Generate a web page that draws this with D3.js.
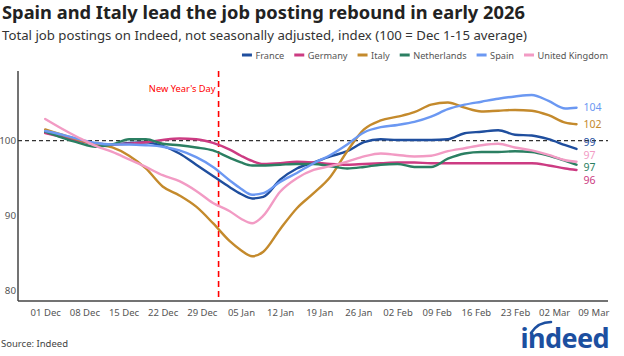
<!DOCTYPE html>
<html>
<head>
<meta charset="utf-8">
<script src="https://cdn.jsdelivr.net/npm/d3@7"></script>
<style>
  html, body { margin: 0; padding: 0; background: #fff; }
  svg { display: block; font-family: "Noto Sans", "Open Sans", sans-serif; }
</style>
</head>
<body>
<svg id="chart" width="624" height="356"></svg>
<script>
const dates = ["2025-12-01","2025-12-04","2025-12-07","2025-12-10","2025-12-13","2025-12-16","2025-12-19","2025-12-22","2025-12-25","2025-12-28","2025-12-31","2026-01-03","2026-01-05","2026-01-07","2026-01-09","2026-01-12","2026-01-15","2026-01-18","2026-01-21","2026-01-24","2026-01-27","2026-01-30","2026-02-02","2026-02-05","2026-02-08","2026-02-11","2026-02-14","2026-02-17","2026-02-20","2026-02-23","2026-02-26","2026-03-01","2026-03-04","2026-03-06"];

const france      = [101.1,100.6,100.0,99.6,99.5,99.7,99.8,99.3,98.3,96.8,95.3,93.8,92.9,92.3,92.5,94.8,96.3,97.1,97.9,98.6,99.8,100.2,100.1,100.1,100.1,100.2,101.0,101.2,101.4,100.8,100.7,100.2,99.4,98.9];
const germany     = [101.0,100.5,100.0,99.6,99.5,99.6,99.8,100.1,100.3,100.2,99.7,98.8,98.0,97.3,96.9,97.0,97.2,97.1,96.9,96.8,96.9,97.0,97.1,97.1,97.0,97.0,97.0,97.0,97.0,97.0,97.0,96.7,96.3,96.1];
const italy       = [101.5,100.8,100.1,99.5,99.1,98.0,96.3,93.9,92.7,91.2,89.0,86.6,85.4,84.6,85.2,88.2,91.0,93.0,95.2,98.6,101.5,102.7,103.2,103.8,104.8,105.1,104.4,103.9,104.0,104.1,104.0,103.4,102.4,102.2];
const netherlands = [101.2,100.4,99.7,99.2,99.5,100.2,100.2,99.6,99.4,99.1,98.7,97.7,97.1,96.7,96.7,96.8,96.9,96.9,96.6,96.3,96.5,96.8,96.9,96.5,96.5,97.6,98.3,98.5,98.5,98.6,98.5,98.0,97.3,96.8];
const spain       = [101.3,100.8,100.2,99.7,99.5,99.5,99.4,99.2,98.7,97.8,96.5,94.7,93.6,92.8,93.0,94.5,95.7,97.0,98.1,99.5,101.1,101.8,102.1,102.5,103.2,104.2,104.8,105.2,105.6,105.9,106.1,105.3,104.3,104.4];
const uk          = [102.9,101.6,100.4,99.3,98.5,97.5,96.5,95.4,94.6,93.3,91.7,90.6,89.6,89.0,90.0,93.2,95.0,96.1,96.6,97.2,97.9,98.3,98.1,97.9,98.0,98.6,99.0,99.4,99.6,99.1,98.7,98.1,97.4,97.2];

const seriesNames  = ["France","Germany","Italy","Netherlands","Spain","United Kingdom"];
const seriesColors = ["#1f4e9e","#cc3b82","#c48a2c","#2b7f62","#6b98f2","#f29bc4"];
const seriesValues = [france, germany, italy, netherlands, spain, uk];

const yTicks = [80, 90, 100];
const xTickStart = "2025-12-01";
const xTickEnd = "2026-03-09";
const holidayDate = "2026-01-01";
const holidayLabel = "New Year's Day";
const titleText = "Spain and Italy lead the job posting rebound in early 2026";
const subtitleText = "Total job postings on Indeed, not seasonally adjusted, index (100 = Dec 1-15 average)";
const sourceText = "Source: Indeed";

const parse = d3.timeParse("%Y-%m-%d");
const svg = d3.select("#chart");

const plot = { left: 18, right: 608, top: 71, bottom: 301 };

const x = d3.scaleTime()
  .domain([parse(xTickStart), parse(xTickEnd)])
  .range([45.2, 593.3]);
const y = d3.scaleLinear().domain([80, 100]).range([290.7, 140.7]);

// Title & subtitle
svg.append("text").attr("x", 2).attr("y", 19)
  .attr("font-size", 18.3).attr("font-weight", 700).attr("fill", "#222")
  .text(titleText);
svg.append("text").attr("x", 2).attr("y", 40)
  .attr("font-size", 13.2).attr("fill", "#333")
  .text(subtitleText);

// Legend (right aligned)
const legend = svg.append("g").attr("font-size", 9.2).attr("fill", "#555");
let lx = 608;
for (let i = seriesNames.length - 1; i >= 0; i--) {
  const t = legend.append("text").attr("y", 58.5).attr("text-anchor", "end").attr("x", lx)
    .attr("fill", "#555").attr("textLength", null).text(seriesNames[i]);
  const w = t.node().getComputedTextLength();
  const sx = lx - w - 13.5;
  legend.append("line").attr("x1", sx).attr("x2", sx + 10).attr("y1", 55).attr("y2", 55)
    .attr("stroke", seriesColors[i]).attr("stroke-width", 3);
  lx = sx - 10;
}

// Axes
const xAxis = d3.axisBottom(x)
  .ticks(d3.timeMonday.every(1))
  .tickFormat(d3.timeFormat("%d %b"))
  .tickSize(0).tickPadding(8);
const gx = svg.append("g").attr("transform", `translate(0,${plot.bottom})`).call(xAxis);
gx.select(".domain").remove();
gx.selectAll("text").attr("font-size", 9.5).attr("fill", "#555").attr("font-family", "Noto Sans, sans-serif");

const yAxis = d3.axisLeft(y).tickValues(yTicks).tickSize(0).tickPadding(2);
const gy = svg.append("g").attr("transform", `translate(${plot.left},0)`).call(yAxis);
gy.select(".domain").remove();
gy.selectAll("text").attr("font-size", 9.8).attr("fill", "#555").attr("font-family", "Noto Sans, sans-serif");

svg.append("line").attr("x1", plot.left).attr("x2", plot.left).attr("y1", plot.top).attr("y2", plot.bottom)
  .attr("stroke", "#444").attr("stroke-width", 1.5);
svg.append("line").attr("x1", plot.left).attr("x2", plot.right).attr("y1", plot.bottom).attr("y2", plot.bottom)
  .attr("stroke", "#444").attr("stroke-width", 1.5);

// Reference line at 100
svg.append("line").attr("x1", plot.left).attr("x2", plot.right).attr("y1", y(100)).attr("y2", y(100))
  .attr("stroke", "#333").attr("stroke-width", 1.3).attr("stroke-dasharray", "4,3");

// Holiday line
const hx = x(parse(holidayDate));
svg.append("line").attr("x1", hx).attr("x2", hx).attr("y1", plot.top).attr("y2", plot.bottom)
  .attr("stroke", "#f00").attr("stroke-width", 1.6).attr("stroke-dasharray", "6,4");
svg.append("text").attr("x", hx - 3).attr("y", 92).attr("text-anchor", "end")
  .attr("font-size", 9.3).attr("fill", "#f00").text(holidayLabel);

// Lines
const line = d3.line().x(d => x(d.date)).y(d => y(d.v)).curve(d3.curveMonotoneX);
const parsedDates = dates.map(parse);
seriesValues.forEach((vals, i) => {
  const data = vals.map((v, j) => ({ date: parsedDates[j], v }));
  svg.append("path").datum(data).attr("d", line)
    .attr("fill", "none").attr("stroke", seriesColors[i]).attr("stroke-width", 2.4)
    .attr("stroke-linejoin", "round").attr("stroke-linecap", "round");
});

// End labels with dodge
const lastX = x(parsedDates[parsedDates.length - 1]);
const labels = seriesValues.map((vals, i) => ({
  i, v: vals[vals.length - 1], y: y(vals[vals.length - 1])
})).sort((a, b) => a.y - b.y);
const gap = 12.6;
for (let iter = 0; iter < 200; iter++) {
  for (let k = 1; k < labels.length; k++) {
    const d = labels[k].y - labels[k - 1].y;
    if (d < gap) {
      const push = (gap - d) / 2;
      labels[k].y += push;
      labels[k - 1].y -= push;
    }
  }
}
labels.forEach(l => {
  svg.append("text").attr("x", lastX + 7).attr("y", l.y).attr("dy", "0.35em")
    .attr("font-size", 10.5).attr("fill", seriesColors[l.i])
    .text(Math.round(l.v));
});

// Source
svg.append("text").attr("x", 1).attr("y", 347).attr("font-size", 9.5).attr("fill", "#444").text(sourceText);

// Indeed logo
const logo = svg.append("g");
logo.append("text").attr("x", 609).attr("y", 348).attr("text-anchor", "end")
  .attr("font-size", 27).attr("font-weight", 700).attr("fill", "#1c4fa0")
  .attr("letter-spacing", -0.6).text("indeed");
logo.append("path").attr("d", "M531,333 Q538,322 551,322")
  .attr("fill", "none").attr("stroke", "#1c4fa0").attr("stroke-width", 2.6).attr("stroke-linecap", "round");
</script>
</body>
</html>
